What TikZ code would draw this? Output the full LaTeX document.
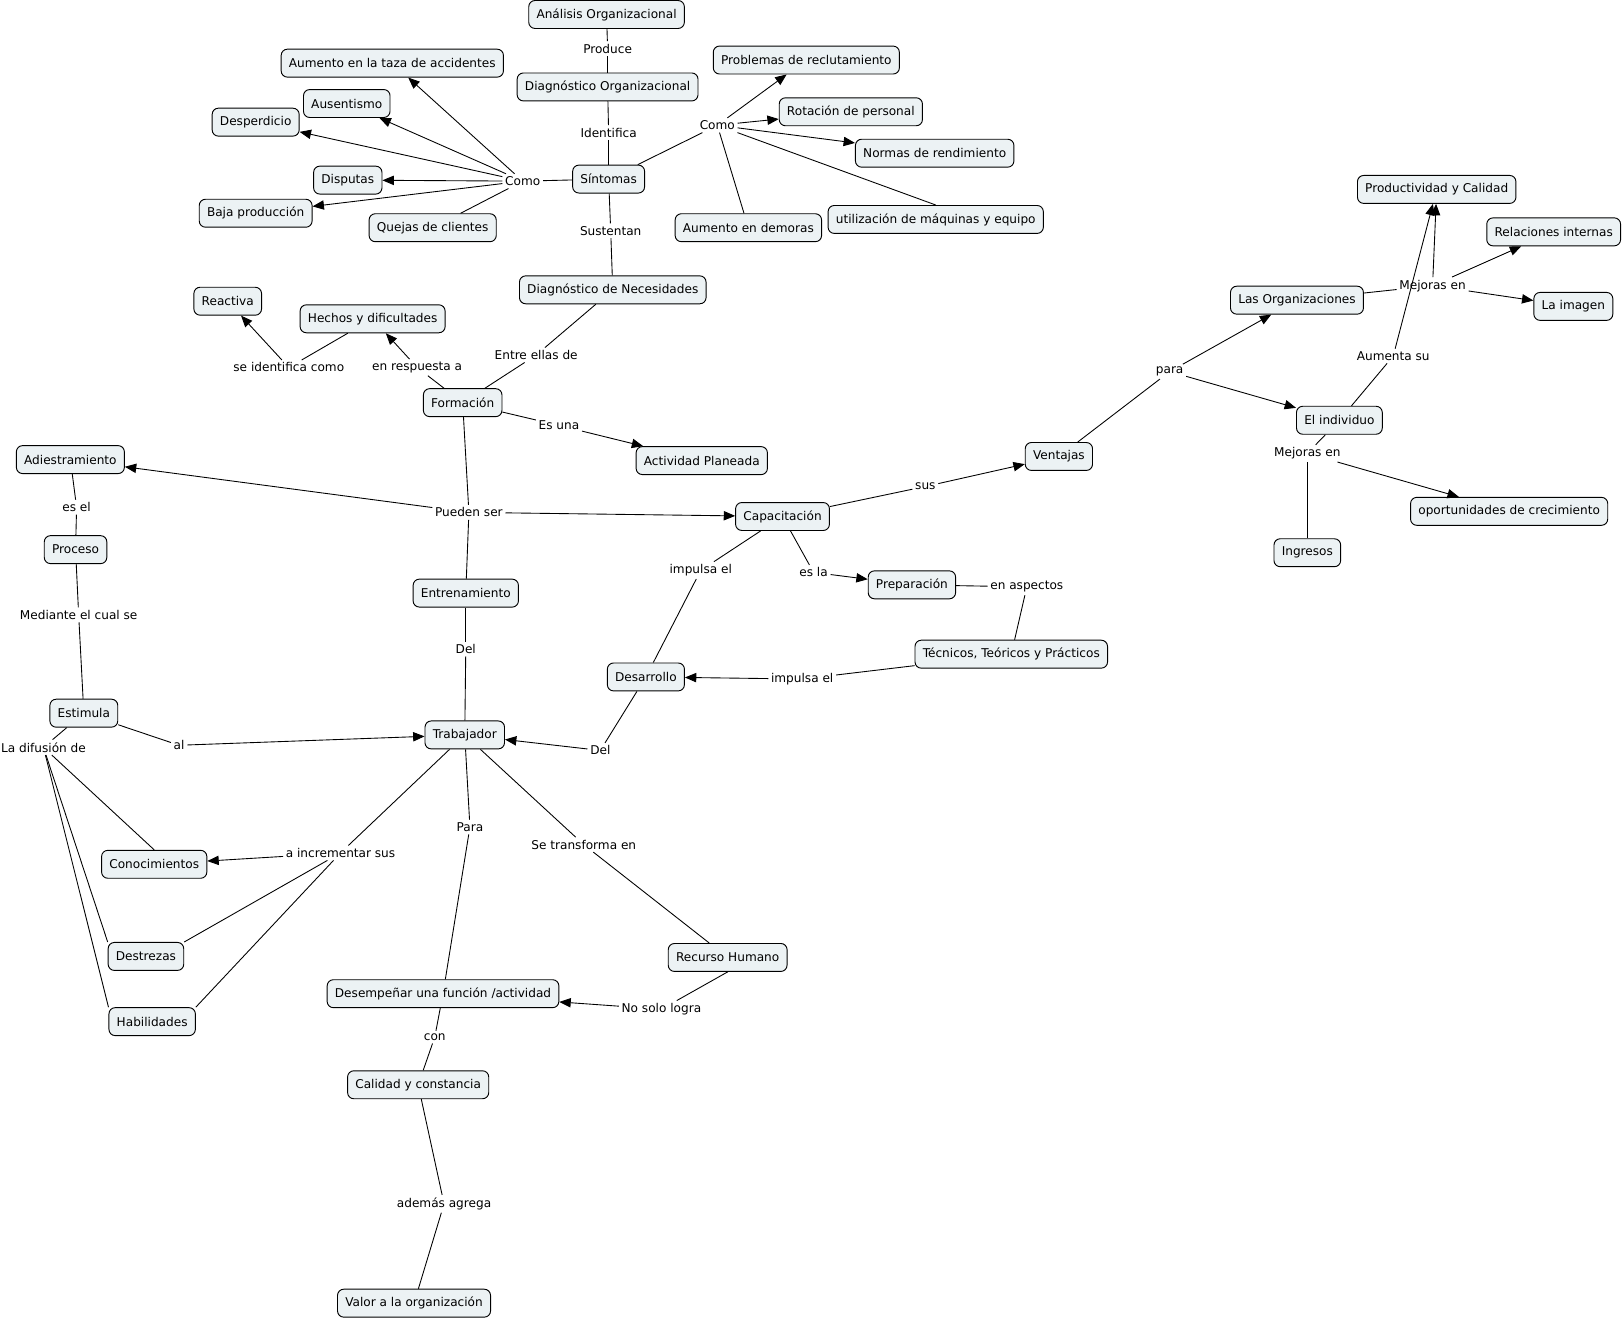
\documentclass[tikz,border=0pt]{standalone}
\usepackage{fontspec}
\setmainfont{DejaVu Sans}
\usetikzlibrary{arrows.meta}
\definecolor{boxfill}{RGB}{236,242,244}
\begin{document}
\begin{tikzpicture}[x=1pt,y=-1pt,
  concept/.style={draw, rounded corners=6pt, fill=boxfill, line width=0.9pt, inner xsep=7.5pt, minimum height=27pt, font=\fontsize{11.7}{13}\selectfont},
  phrase/.style={inner sep=2.5pt, font=\fontsize{11.7}{13}\selectfont},
  ln/.style={line width=0.85pt},
  ar/.style={line width=0.85pt, -{Triangle[length=11pt,width=9pt]}},
]
\useasboundingbox[fill=white] (0,0) rectangle (1568,1275);
% concepts
\node[concept] (ao) at (586,14) {Análisis Organizacional};
\node[concept] (do) at (587,84) {Diagnóstico Organizacional};
\node[concept] (sin) at (588,173) {Síntomas};
\node[concept] (acc) at (379,61) {Aumento en la taza de accidentes};
\node[concept] (aus) at (335,100) {Ausentismo};
\node[concept] (des) at (247,118) {Desperdicio};
\node[concept] (dis) at (336,174) {Disputas};
\node[concept] (baj) at (247,206) {Baja producción};
\node[concept] (que) at (418,220) {Quejas de clientes};
\node[concept] (pro) at (779,58) {Problemas de reclutamiento};
\node[concept] (rot) at (822,108) {Rotación de personal};
\node[concept] (nor) at (903,148) {Normas de rendimiento};
\node[concept] (dem) at (723,220) {Aumento en demoras};
\node[concept] (uti) at (904,212) {utilización de máquinas y equipo};
\node[concept] (dn) at (592,280) {Diagnóstico de Necesidades};
\node[concept] (rea) at (220,291) {Reactiva};
\node[concept] (hec) at (360,308) {Hechos y dificultades};
\node[concept] (for) at (447,389) {Formación};
\node[concept] (act) at (678,445) {Actividad Planeada};
\node[concept] (adi) at (68,444) {Adiestramiento};
\node[concept] (cap) at (756,499) {Capacitación};
\node[concept] (proc) at (73,531) {Proceso};
\node[concept] (ent) at (450,573) {Entrenamiento};
\node[concept] (pre) at (881,565) {Preparación};
\node[concept] (tec) at (977,632) {Técnicos, Teóricos y Prácticos};
\node[concept] (desa) at (624,654) {Desarrollo};
\node[concept] (est) at (81,689) {Estimula};
\node[concept] (tra) at (449,710) {Trabajador};
\node[concept] (con) at (149,835) {Conocimientos};
\node[concept] (dst) at (141,924) {Destrezas};
\node[concept] (hab) at (147,987) {Habilidades};
\node[concept] (dfa) at (428,960) {Desempeñar una función /actividad};
\node[concept] (rh) at (703,925) {Recurso Humano};
\node[concept] (cal) at (404,1048) {Calidad y constancia};
\node[concept] (val) at (400,1259) {Valor a la organización};
\node[concept] (ven) at (1023,441) {Ventajas};
\node[concept] (org) at (1253,290) {Las Organizaciones};
\node[concept] (pyc) at (1388,183) {Productividad y Calidad};
\node[concept] (rel) at (1501,224) {Relaciones internas};
\node[concept] (ima) at (1520,296) {La imagen};
\node[concept] (ind) at (1294,406) {El individuo};
\node[concept] (opo) at (1458,494) {oportunidades de crecimiento};
\node[concept] (ing) at (1263,534) {Ingresos};
% linking phrases
\node[phrase] (l1) at (587,47) {Produce};
\node[phrase] (l2) at (588,128) {Identifica};
\node[phrase] (l3) at (590,223) {Sustentan};
\node[phrase] (l4) at (505,175) {Como};
\node[phrase] (l5) at (693,121) {Como};
\node[phrase] (l6) at (518,343) {Entre ellas de};
\node[phrase] (l7) at (279,355) {se identifica como};
\node[phrase] (l8) at (403,355) {en respuesta a};
\node[phrase] (l9) at (540,411) {Es una};
\node[phrase] (l10) at (453,495) {Pueden ser};
\node[phrase] (l11) at (74,490) {es el};
\node[phrase] (l12) at (76,594) {Mediante el cual se};
\node[phrase] (l13) at (677,551) {impulsa el};
\node[phrase] (l14) at (786,553) {es la};
\node[phrase] (l15) at (992,567) {en aspectos};
\node[phrase] (l16) at (775,656) {impulsa el};
\node[phrase] (l17) at (450,627) {Del};
\node[phrase] (l18) at (580,725) {Del};
\node[phrase] (l19) at (173,720) {al};
\node[phrase] (l20) at (42,722) {La difusión de};
\node[phrase] (l21) at (329,824) {a incrementar sus};
\node[phrase] (l22) at (454,799) {Para};
\node[phrase] (l23) at (564,816) {Se transforma en};
\node[phrase] (l24) at (639,975) {No solo logra};
\node[phrase] (l25) at (420,1002) {con};
\node[phrase] (l26) at (429,1163) {además agrega};
\node[phrase] (l27) at (894,470) {sus};
\node[phrase] (l28) at (1130,359) {para};
\node[phrase] (l29) at (1384,276) {Mejoras en};
\node[phrase] (l30) at (1346,344) {Aumenta su};
\node[phrase] (l31) at (1263,438) {Mejoras en};
% connectors
\draw[ln] (ao) -- (l1); \draw[ln] (l1) -- (do);
\draw[ln] (do) -- (l2); \draw[ln] (l2) -- (sin);
\draw[ln] (sin) -- (l3); \draw[ln] (l3) -- (dn);
\draw[ln] (sin) -- (l4);
\draw[ar] (l4) -- (acc); \draw[ar] (l4) -- (aus); \draw[ar] (l4) -- (des);
\draw[ar] (l4) -- (dis); \draw[ar] (l4) -- (baj); \draw[ln] (l4) -- (que);
\draw[ln] (sin) -- (l5);
\draw[ar] (l5) -- (pro); \draw[ar] (l5) -- (rot); \draw[ar] (l5) -- (nor);
\draw[ln] (l5) -- (dem); \draw[ln] (l5) -- (uti.north);
\draw[ln] (dn) -- (l6); \draw[ln] (l6) -- (for);
\draw[ln] (for) -- (l8); \draw[ar] (l8) -- (hec);
\draw[ln] (hec) -- (l7); \draw[ar] (l7) -- (rea);
\draw[ln] (for) -- (l9); \draw[ar] (l9) -- (act);
\draw[ln] (for) -- (l10);
\draw[ar] (l10) -- (adi); \draw[ar] (l10) -- (cap); \draw[ln] (l10) -- (ent);
\draw[ln] (adi) -- (l11); \draw[ln] (l11) -- (proc);
\draw[ln] (proc) -- (l12); \draw[ln] (l12) -- (est);
\draw[ln] (est) -- (l19); \draw[ar] (l19) -- (tra);
\draw[ln] (est) -- (l20);
\draw[ln] (l20) -- (con.north); \draw[ln] (l20) -- (dst.north west); \draw[ln] (l20) -- (hab.north west);
\draw[ln] (ent) -- (l17); \draw[ln] (l17) -- (tra);
\draw[ln] (cap) -- (l13); \draw[ln] (l13) -- (desa);
\draw[ln] (cap) -- (l14); \draw[ar] (l14) -- (pre);
\draw[ln] (pre) -- (l15); \draw[ln] (l15) -- (tec);
\draw[ln] (tec) -- (l16); \draw[ar] (l16) -- (desa);
\draw[ln] (desa) -- (l18); \draw[ar] (l18) -- (tra);
\draw[ln] (tra) -- (l21);
\draw[ar] (l21) -- (con); \draw[ln] (l21) -- (dst.north east); \draw[ln] (l21) -- (hab.north east);
\draw[ln] (tra) -- (l22); \draw[ln] (l22) -- (dfa);
\draw[ln] (tra) -- (l23); \draw[ln] (l23) -- (rh);
\draw[ln] (rh.south) -- (l24); \draw[ar] (l24) -- (dfa);
\draw[ln] (dfa) -- (l25); \draw[ln] (l25) -- (cal);
\draw[ln] (cal) -- (l26); \draw[ln] (l26) -- (val);
\draw[ln] (cap) -- (l27); \draw[ar] (l27) -- (ven);
\draw[ln] (ven) -- (l28); \draw[ar] (l28) -- (org); \draw[ar] (l28) -- (ind);
\draw[ln] (org) -- (l29);
\draw[ar] (l29) -- (pyc); \draw[ar] (l29) -- (rel); \draw[ar] (l29) -- (ima);
\draw[ln] (ind) -- (l30); \draw[ar] (l30) -- (pyc);
\draw[ln] (ind) -- (l31); \draw[ar] (l31) -- (opo); \draw[ln] (l31) -- (ing);
\end{tikzpicture}
\end{document}
